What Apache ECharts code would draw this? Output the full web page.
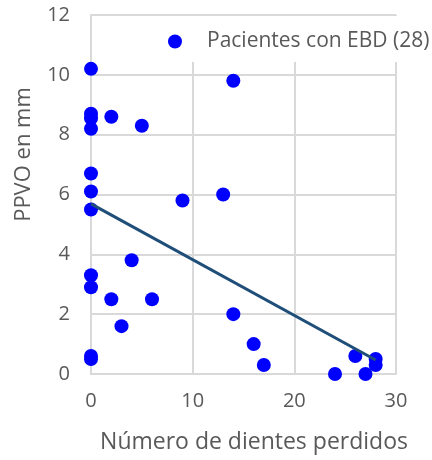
<!DOCTYPE html>
<html>
<head>
<meta charset="utf-8">
<script src="https://cdn.jsdelivr.net/npm/echarts@6/dist/echarts.min.js"></script>
<style>
  html, body { margin: 0; padding: 0; background: #fff; }
  #chart { width: 432px; height: 460px; }
</style>
</head>
<body>
<div id="chart"></div>
<script>
// Missing teeth per patient (x) and PPVO in mm (y)
const dientesPerdidos = [0, 0, 0, 2, 0, 5, 0, 0, 0, 9, 13, 14, 4, 0, 0, 2, 6, 3, 0, 0, 14, 16, 17, 24, 26, 27, 28, 28];
const ppvoMm          = [10.2, 8.7, 8.55, 8.6, 8.2, 8.3, 6.7, 6.1, 5.5, 5.8, 6.0, 9.8, 3.8, 3.3, 2.9, 2.5, 2.5, 1.6, 0.6, 0.5, 2.0, 1.0, 0.3, 0, 0.6, 0, 0.5, 0.3];
const xTicks = [0, 10, 20, 30];
const yTicks = [0, 2, 4, 6, 8, 10, 12];
const serieNombre = 'Pacientes con EBD (28)';

const puntos = dientesPerdidos.map((x, i) => [x, ppvoMm[i]]);

// Least-squares fit for the trend line, spanning the observed x range
const n = puntos.length;
const mx = dientesPerdidos.reduce((a, b) => a + b, 0) / n;
const my = ppvoMm.reduce((a, b) => a + b, 0) / n;
let sxy = 0, sxx = 0;
for (let i = 0; i < n; i++) {
  sxy += (dientesPerdidos[i] - mx) * (ppvoMm[i] - my);
  sxx += (dientesPerdidos[i] - mx) ** 2;
}
const pendiente = sxy / sxx;
const intercepto = my - pendiente * mx;
const xMin = Math.min(...dientesPerdidos), xMax = Math.max(...dientesPerdidos);
const tendencia = [[xMin, intercepto + pendiente * xMin], [xMax, intercepto + pendiente * xMax]];

const FONT = 'Open Sans';
const GRIS = '#595959';
const LINEA = '#D9D9D9';

const chart = echarts.init(document.getElementById('chart'), null, { renderer: 'canvas' });
chart.setOption({
  animation: false,
  backgroundColor: '#fff',
  textStyle: { fontFamily: FONT },
  grid: { left: 91, right: 36, top: 15, bottom: 86, containLabel: false },
  legend: {
    data: [{ name: serieNombre, icon: 'circle' }],
    left: 145, top: 16,
    padding: [15, 8, 10, 23],
    backgroundColor: '#fff',
    itemWidth: 14, itemHeight: 14,
    textStyle: { color: GRIS, fontSize: 21, fontFamily: FONT, padding: [0, 0, 0, 20] }
  },
  xAxis: {
    type: 'value',
    min: xTicks[0], max: xTicks[xTicks.length - 1], interval: 10,
    name: 'Número de dientes perdidos',
    nameLocation: 'middle', nameGap: 57,
    nameTextStyle: { color: GRIS, fontSize: 23, fontFamily: FONT, padding: [0, 0, 0, 21] },
    axisLine: { show: true, lineStyle: { color: LINEA, width: 2 } },
    axisTick: { show: false },
    axisLabel: { color: GRIS, fontSize: 20, margin: 17, fontFamily: FONT },
    splitLine: { show: true, lineStyle: { color: LINEA, width: 2 } }
  },
  yAxis: {
    type: 'value',
    min: yTicks[0], max: yTicks[yTicks.length - 1], interval: 2,
    name: 'PPVO en mm',
    nameLocation: 'middle', nameGap: 56,
    nameTextStyle: { color: GRIS, fontSize: 22, fontFamily: FONT, padding: [0, 0, 0, 80] },
    axisLine: { show: true, lineStyle: { color: LINEA, width: 2 } },
    axisTick: { show: false },
    axisLabel: { color: GRIS, fontSize: 20, margin: 21, fontFamily: FONT },
    splitLine: { show: true, lineStyle: { color: LINEA, width: 2 } }
  },
  series: [
    {
      name: serieNombre,
      type: 'scatter',
      data: puntos,
      symbol: 'circle',
      symbolSize: 14,
      itemStyle: { color: '#0000FF', opacity: 1 },
      z: 3
    },
    {
      name: 'Tendencia',
      type: 'line',
      data: tendencia,
      showSymbol: false,
      symbol: 'none',
      lineStyle: { color: '#1F4E79', width: 3 },
      z: 4
    }
  ]
});
</script>
</body>
</html>
